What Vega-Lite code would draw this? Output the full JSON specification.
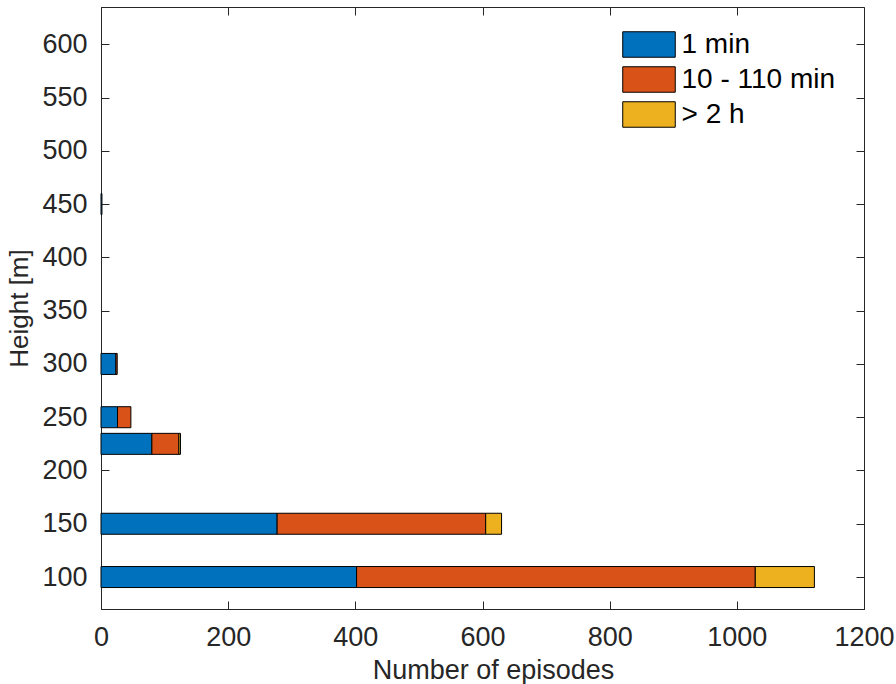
{
  "$schema": "https://vega.github.io/schema/vega-lite/v6.json",
  "autosize": "none",
  "width": 763,
  "height": 602,
  "padding": {"left": 101, "top": 7, "right": 32, "bottom": 75},
  "background": "white",
  "config": {
    "font": "Liberation Sans",
    "view": {"stroke": "#262626", "strokeWidth": 1}
  },
  "data": {
    "values": [
      {"height": 100, "series": "1 min", "order": 1, "count": 402},
      {"height": 100, "series": "10 - 110 min", "order": 2, "count": 627},
      {"height": 100, "series": "> 2 h", "order": 3, "count": 93},
      {"height": 150, "series": "1 min", "order": 1, "count": 277},
      {"height": 150, "series": "10 - 110 min", "order": 2, "count": 328},
      {"height": 150, "series": "> 2 h", "order": 3, "count": 25},
      {"height": 225, "series": "1 min", "order": 1, "count": 80},
      {"height": 225, "series": "10 - 110 min", "order": 2, "count": 42.5},
      {"height": 225, "series": "> 2 h", "order": 3, "count": 2.5},
      {"height": 250, "series": "1 min", "order": 1, "count": 26},
      {"height": 250, "series": "10 - 110 min", "order": 2, "count": 21},
      {"height": 300, "series": "1 min", "order": 1, "count": 23.5},
      {"height": 300, "series": "10 - 110 min", "order": 2, "count": 2},
      {"height": 450, "series": "1 min", "order": 1, "count": 1.5}
    ]
  },
  "resolve": {"axis": {"x": "independent", "y": "independent"}},
  "layer": [
    {
      "mark": {"type": "bar", "orient": "horizontal", "size": 21, "stroke": "black", "strokeWidth": 1},
      "encoding": {
        "y": {
          "field": "height",
          "type": "quantitative",
          "scale": {"domain": [70, 635], "nice": false, "zero": false, "padding": 0},
          "axis": {
            "title": "Height [m]",
            "values": [100, 150, 200, 250, 300, 350, 400, 450, 500, 550, 600],
            "format": "d",
            "grid": false,
            "labelFlush": false,
            "labelOverlap": false,
            "domainColor": "#262626",
            "tickColor": "#262626",
            "tickSize": -8,
            "labelPadding": 22,
            "labelFontSize": 27,
            "labelColor": "#262626",
            "titleFontSize": 26,
            "titleFontWeight": "normal",
            "titleColor": "#262626",
            "titlePadding": 9
          }
        },
        "x": {
          "field": "count",
          "type": "quantitative",
          "stack": "zero",
          "scale": {"domain": [0, 1200], "nice": false, "padding": 0},
          "axis": {
            "title": "Number of episodes",
            "titleX": 392,
            "titleAlign": "center",
            "values": [0, 200, 400, 600, 800, 1000, 1200],
            "format": "d",
            "grid": false,
            "labelFlush": false,
            "labelOverlap": false,
            "domainColor": "#262626",
            "tickColor": "#262626",
            "tickSize": -8,
            "labelPadding": 23,
            "labelFontSize": 27,
            "labelColor": "#262626",
            "titleFontSize": 27,
            "titleFontWeight": "normal",
            "titleColor": "#262626",
            "titlePadding": 7
          }
        },
        "color": {
          "field": "series",
          "type": "nominal",
          "scale": {
            "domain": ["1 min", "10 - 110 min", "> 2 h"],
            "range": ["#0072BD", "#D95319", "#EDB120"]
          },
          "legend": {
            "title": null,
            "orient": "none",
            "legendX": 528.5,
            "legendY": 18,
            "padding": 0,
            "symbolType": "M-1.382,-0.671H1.382V0.671H-1.382Z",
            "symbolSize": 1444,
            "symbolStrokeColor": "black",
            "symbolStrokeWidth": 1,
            "symbolOpacity": 1,
            "labelFontSize": 28,
            "labelColor": "black",
            "labelOffset": 13,
            "rowPadding": 0
          }
        },
        "order": {"field": "order", "type": "quantitative"}
      }
    },
    {
      "mark": {"type": "point", "opacity": 0},
      "encoding": {
        "y": {
          "field": "height",
          "type": "quantitative",
          "axis": {
            "orient": "right",
            "title": null,
            "values": [100, 150, 200, 250, 300, 350, 400, 450, 500, 550, 600],
            "labels": false,
            "grid": false,
            "domain": false,
            "tickColor": "#262626",
            "tickSize": -8
          }
        },
        "x": {
          "field": "count",
          "type": "quantitative",
          "axis": {
            "orient": "top",
            "title": null,
            "values": [0, 200, 400, 600, 800, 1000, 1200],
            "labels": false,
            "grid": false,
            "domain": false,
            "tickColor": "#262626",
            "tickSize": -8
          }
        }
      }
    }
  ]
}
